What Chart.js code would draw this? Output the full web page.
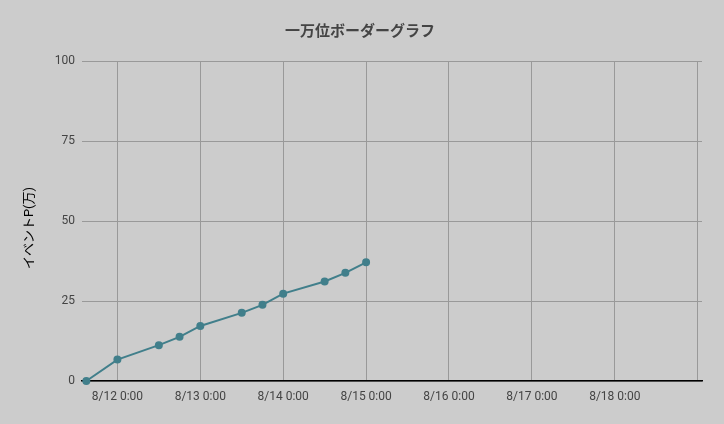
<!DOCTYPE html>
<html><head><meta charset="utf-8">
<script src="https://cdn.jsdelivr.net/npm/chart.js@4/dist/chart.umd.min.js"></script>
<style>html,body{margin:0;padding:0;background:#cccccc;}#w{width:724px;height:424px;}</style>
</head><body><div id="w"><canvas id="c"></canvas></div>
<script>
const chartTitle = '一万位ボーダーグラフ';
const yTitle = 'イベントP(万)';
const times = ['8/11 15:00','8/12 0:00','8/12 12:00','8/12 18:00','8/13 0:00','8/13 12:00','8/13 18:00','8/14 0:00','8/14 12:00','8/14 18:00','8/15 0:00'];
const points = [0, 6.7, 11.2, 13.8, 17.2, 21.3, 23.8, 27.3, 31.1, 33.8, 37.1];
const xTickLabels = ['8/12 0:00','8/13 0:00','8/14 0:00','8/15 0:00','8/16 0:00','8/17 0:00','8/18 0:00',''];
const yTicks = [0, 25, 50, 75, 100];
const xMinLabel = '8/11 13:45';
const xMaxLabel = '8/19 1:15';

// hours since 8/12 0:00
function toHours(s){
  const [d, t] = s.split(' ');
  const day = parseInt(d.split('/')[1], 10);
  const [h, m] = t.split(':').map(Number);
  return (day - 12) * 24 + h + m / 60;
}
const tickHours = xTickLabels.map((_, i) => i * 24);
const data = times.map((t, i) => ({x: toHours(t), y: points[i]}));
const col = '#417f8b';

const yTitlePlugin = {
  id: 'yTitle',
  afterDraw(chart) {
    const ctx = chart.ctx, a = chart.chartArea;
    ctx.save();
    ctx.translate(30, (a.top + a.bottom) / 2 + 7);
    ctx.rotate(-Math.PI / 2);
    ctx.font = '13px Roboto, "Noto Sans CJK JP"';
    ctx.fillStyle = '#000';
    ctx.textAlign = 'center';
    ctx.textBaseline = 'middle';
    ctx.fillText(yTitle, 0, 0);
    ctx.restore();
  }
};

new Chart(document.getElementById('c'), {
  type: 'line',
  data: { datasets: [{
    data, borderColor: col, backgroundColor: col, borderWidth: 2,
    pointRadius: 3, pointHoverRadius: 3, tension: 0, clip: false
  }]},
  plugins: [yTitlePlugin],
  options: {
    responsive: true, maintainAspectRatio: false, animation: false,
    layout: { padding: { left: 18, right: 22, top: 0, bottom: 0 } },
    plugins: {
      legend: { display: false }, tooltip: { enabled: false },
      title: { display: true, text: chartTitle, color: '#444',
        font: { family: 'Roboto, "Noto Sans CJK JP"', size: 15, weight: 'bold' },
        padding: { top: 23, bottom: 20 } }
    },
    scales: {
      x: {
        type: 'linear', min: toHours(xMinLabel), max: toHours(xMaxLabel),
        afterBuildTicks: s => { s.ticks = tickHours.map(v => ({value: v})); },
        afterFit: s => { s.height = 43; },
        ticks: { color: '#444', font: { family: 'Roboto', size: 12 }, padding: 9, maxRotation: 0, autoSkip: false,
          callback: (v) => { const i = tickHours.indexOf(v); return i >= 0 ? xTickLabels[i] : ''; } },
        grid: { color: '#999', drawTicks: false },
        border: { display: true, color: '#000', width: 1.5 }
      },
      y: {
        min: 0, max: 100,
        afterBuildTicks: s => { s.ticks = yTicks.map(v => ({value: v})); },
        afterFit: s => { s.width = 64; },
        ticks: { color: '#444', font: { family: 'Roboto', size: 12 }, padding: 7 },
        grid: { color: '#999', drawTicks: false },
        border: { display: false }
      }
    }
  }
});
</script></body></html>
